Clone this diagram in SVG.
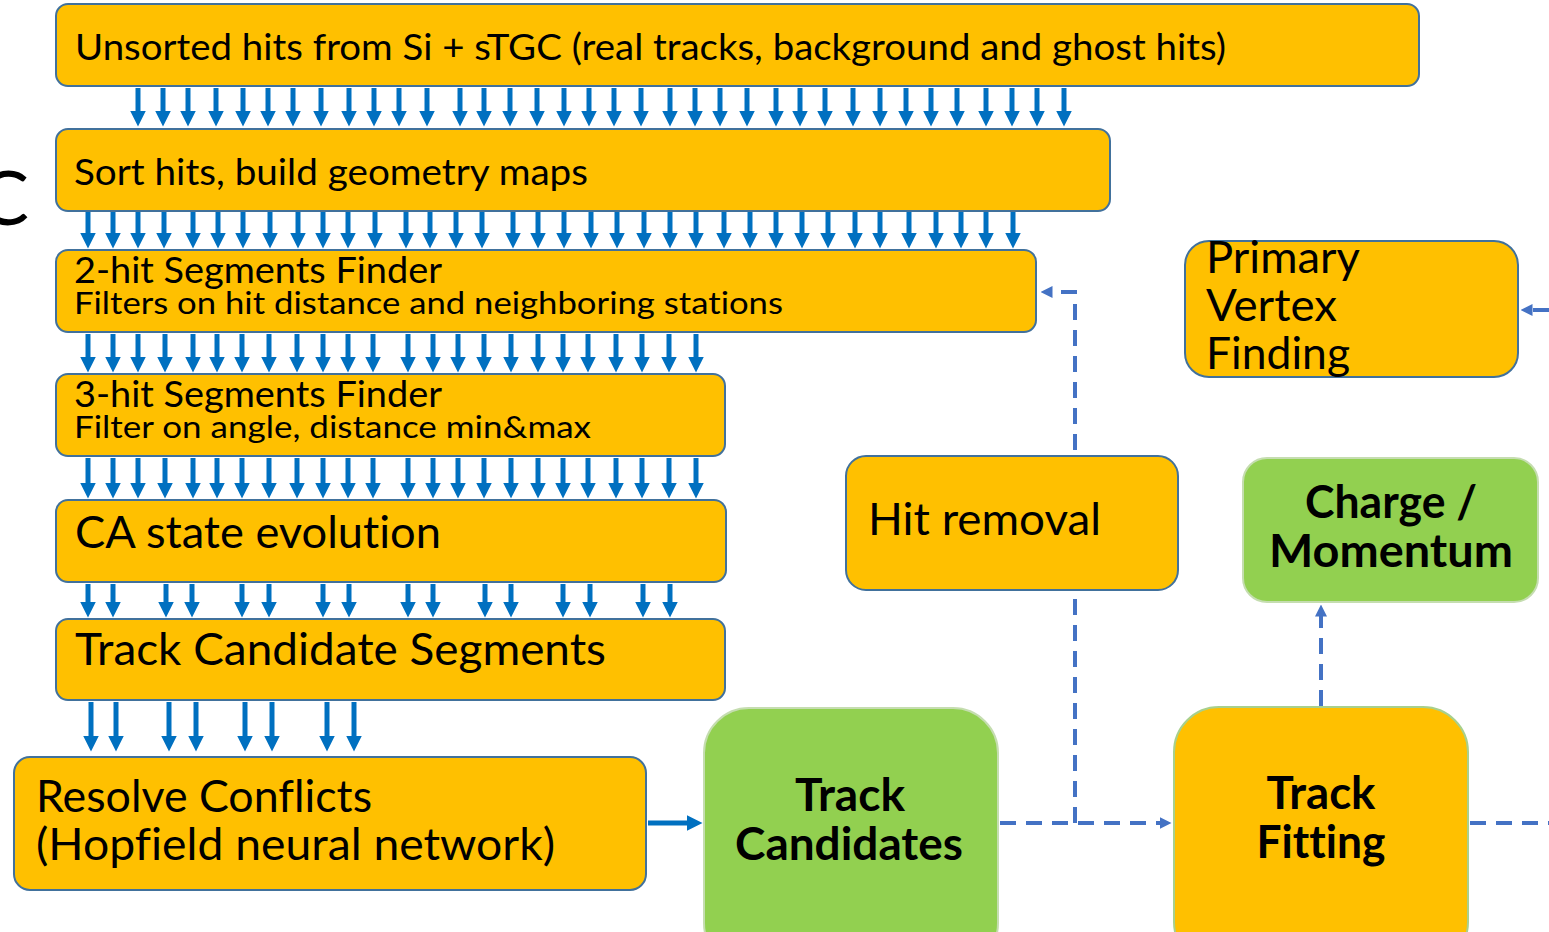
<svg xmlns="http://www.w3.org/2000/svg" width="1549" height="932" viewBox="0 0 1549 932">
<defs>
<style>
.o{fill:#FFC000;stroke:#41719C;stroke-width:2}
.g{fill:#92D050;stroke:#C5DDB0;stroke-width:2}
.tf{fill:#FFC000;stroke:#A8D08D;stroke-width:2}
.t{font-family:Lato,"Liberation Sans",sans-serif;fill:#000;font-variant-ligatures:none}
.b{font-family:Lato,"Liberation Sans",sans-serif;font-weight:bold;fill:#000;font-variant-ligatures:none}
.a{stroke:#0070C0;stroke-width:5;fill:none}
.d{stroke:#4472C4;stroke-width:4;fill:none;stroke-dasharray:16 10}
</style>
<marker id="ah" markerUnits="userSpaceOnUse" viewBox="0 0 16 16" refX="0.5" refY="8" markerWidth="16" markerHeight="16" orient="auto">
<path d="M0,0 L16,8 L0,16 z" fill="#0070C0"/>
</marker>
<marker id="dh" markerUnits="userSpaceOnUse" viewBox="0 0 12 12" refX="0.5" refY="6" markerWidth="12" markerHeight="12" orient="auto">
<path d="M0,0 L12,6 L0,12 z" fill="#4472C4"/>
</marker>
</defs>
<rect width="1549" height="932" fill="#fff"/>
<text class="t" x="29" y="225" font-size="76" text-anchor="end">C</text>

<g id="connectors">
<g id="row1" class="a" marker-end="url(#ah)">
<line x1="138" y1="88" x2="138" y2="111"/><line x1="163" y1="88" x2="163" y2="111"/><line x1="188" y1="88" x2="188" y2="111"/><line x1="216" y1="88" x2="216" y2="111"/><line x1="243" y1="88" x2="243" y2="111"/><line x1="268" y1="88" x2="268" y2="111"/><line x1="293" y1="88" x2="293" y2="111"/><line x1="321" y1="88" x2="321" y2="111"/><line x1="349" y1="88" x2="349" y2="111"/><line x1="374" y1="88" x2="374" y2="111"/><line x1="399" y1="88" x2="399" y2="111"/><line x1="427" y1="88" x2="427" y2="111"/><line x1="460" y1="88" x2="460" y2="111"/><line x1="484" y1="88" x2="484" y2="111"/><line x1="510" y1="88" x2="510" y2="111"/><line x1="537" y1="88" x2="537" y2="111"/><line x1="564" y1="88" x2="564" y2="111"/><line x1="589" y1="88" x2="589" y2="111"/><line x1="614" y1="88" x2="614" y2="111"/><line x1="641" y1="88" x2="641" y2="111"/><line x1="670" y1="88" x2="670" y2="111"/><line x1="695" y1="88" x2="695" y2="111"/><line x1="720" y1="88" x2="720" y2="111"/><line x1="747" y1="88" x2="747" y2="111"/><line x1="776" y1="88" x2="776" y2="111"/><line x1="800" y1="88" x2="800" y2="111"/><line x1="825" y1="88" x2="825" y2="111"/><line x1="853" y1="88" x2="853" y2="111"/><line x1="880" y1="88" x2="880" y2="111"/><line x1="906" y1="88" x2="906" y2="111"/><line x1="931" y1="88" x2="931" y2="111"/><line x1="957" y1="88" x2="957" y2="111"/><line x1="986" y1="88" x2="986" y2="111"/><line x1="1012" y1="88" x2="1012" y2="111"/><line x1="1037" y1="88" x2="1037" y2="111"/><line x1="1064" y1="88" x2="1064" y2="111"/>
</g>
<g id="row2" class="a" marker-end="url(#ah)">
<line x1="88" y1="212" x2="88" y2="233"/><line x1="113" y1="212" x2="113" y2="233"/><line x1="138" y1="212" x2="138" y2="233"/><line x1="164" y1="212" x2="164" y2="233"/><line x1="193" y1="212" x2="193" y2="233"/><line x1="218" y1="212" x2="218" y2="233"/><line x1="243" y1="212" x2="243" y2="233"/><line x1="270" y1="212" x2="270" y2="233"/><line x1="298" y1="212" x2="298" y2="233"/><line x1="323" y1="212" x2="323" y2="233"/><line x1="348" y1="212" x2="348" y2="233"/><line x1="375" y1="212" x2="375" y2="233"/><line x1="406" y1="212" x2="406" y2="233"/><line x1="430" y1="212" x2="430" y2="233"/><line x1="456" y1="212" x2="456" y2="233"/><line x1="482" y1="212" x2="482" y2="233"/><line x1="513" y1="212" x2="513" y2="233"/><line x1="538" y1="212" x2="538" y2="233"/><line x1="564" y1="212" x2="564" y2="233"/><line x1="591" y1="212" x2="591" y2="233"/><line x1="617" y1="212" x2="617" y2="233"/><line x1="644" y1="212" x2="644" y2="233"/><line x1="670" y1="212" x2="670" y2="233"/><line x1="696" y1="212" x2="696" y2="233"/><line x1="724" y1="212" x2="724" y2="233"/><line x1="750" y1="212" x2="750" y2="233"/><line x1="776" y1="212" x2="776" y2="233"/><line x1="802" y1="212" x2="802" y2="233"/><line x1="828" y1="212" x2="828" y2="233"/><line x1="855" y1="212" x2="855" y2="233"/><line x1="880" y1="212" x2="880" y2="233"/><line x1="909" y1="212" x2="909" y2="233"/><line x1="936" y1="212" x2="936" y2="233"/><line x1="961" y1="212" x2="961" y2="233"/><line x1="986" y1="212" x2="986" y2="233"/><line x1="1013" y1="212" x2="1013" y2="233"/>
</g>
<g id="row3" class="a" marker-end="url(#ah)">
<line x1="88" y1="334" x2="88" y2="357"/><line x1="113" y1="334" x2="113" y2="357"/><line x1="138" y1="334" x2="138" y2="357"/><line x1="165" y1="334" x2="165" y2="357"/><line x1="193" y1="334" x2="193" y2="357"/><line x1="217" y1="334" x2="217" y2="357"/><line x1="242" y1="334" x2="242" y2="357"/><line x1="269" y1="334" x2="269" y2="357"/><line x1="297" y1="334" x2="297" y2="357"/><line x1="323" y1="334" x2="323" y2="357"/><line x1="348" y1="334" x2="348" y2="357"/><line x1="373" y1="334" x2="373" y2="357"/><line x1="408" y1="334" x2="408" y2="357"/><line x1="433" y1="334" x2="433" y2="357"/><line x1="458" y1="334" x2="458" y2="357"/><line x1="484" y1="334" x2="484" y2="357"/><line x1="511" y1="334" x2="511" y2="357"/><line x1="538" y1="334" x2="538" y2="357"/><line x1="563" y1="334" x2="563" y2="357"/><line x1="588" y1="334" x2="588" y2="357"/><line x1="616" y1="334" x2="616" y2="357"/><line x1="642" y1="334" x2="642" y2="357"/><line x1="669" y1="334" x2="669" y2="357"/><line x1="696" y1="334" x2="696" y2="357"/>
</g>
<g id="row4" class="a" marker-end="url(#ah)">
<line x1="88" y1="458" x2="88" y2="483"/><line x1="113" y1="458" x2="113" y2="483"/><line x1="138" y1="458" x2="138" y2="483"/><line x1="165" y1="458" x2="165" y2="483"/><line x1="193" y1="458" x2="193" y2="483"/><line x1="217" y1="458" x2="217" y2="483"/><line x1="242" y1="458" x2="242" y2="483"/><line x1="269" y1="458" x2="269" y2="483"/><line x1="297" y1="458" x2="297" y2="483"/><line x1="323" y1="458" x2="323" y2="483"/><line x1="348" y1="458" x2="348" y2="483"/><line x1="373" y1="458" x2="373" y2="483"/><line x1="408" y1="458" x2="408" y2="483"/><line x1="433" y1="458" x2="433" y2="483"/><line x1="458" y1="458" x2="458" y2="483"/><line x1="484" y1="458" x2="484" y2="483"/><line x1="511" y1="458" x2="511" y2="483"/><line x1="538" y1="458" x2="538" y2="483"/><line x1="563" y1="458" x2="563" y2="483"/><line x1="588" y1="458" x2="588" y2="483"/><line x1="616" y1="458" x2="616" y2="483"/><line x1="642" y1="458" x2="642" y2="483"/><line x1="669" y1="458" x2="669" y2="483"/><line x1="696" y1="458" x2="696" y2="483"/>
</g>
<g id="row5" class="a" marker-end="url(#ah)">
<line x1="88" y1="584" x2="88" y2="602"/><line x1="113" y1="584" x2="113" y2="602"/><line x1="166" y1="584" x2="166" y2="602"/><line x1="192" y1="584" x2="192" y2="602"/><line x1="242" y1="584" x2="242" y2="602"/><line x1="269" y1="584" x2="269" y2="602"/><line x1="323" y1="584" x2="323" y2="602"/><line x1="349" y1="584" x2="349" y2="602"/><line x1="408" y1="584" x2="408" y2="602"/><line x1="433" y1="584" x2="433" y2="602"/><line x1="485" y1="584" x2="485" y2="602"/><line x1="511" y1="584" x2="511" y2="602"/><line x1="563" y1="584" x2="563" y2="602"/><line x1="590" y1="584" x2="590" y2="602"/><line x1="643" y1="584" x2="643" y2="602"/><line x1="670" y1="584" x2="670" y2="602"/>
</g>
<g id="row6" class="a" marker-end="url(#ah)">
<line x1="91" y1="702" x2="91" y2="736"/><line x1="116" y1="702" x2="116" y2="736"/><line x1="169" y1="702" x2="169" y2="736"/><line x1="196" y1="702" x2="196" y2="736"/><line x1="245" y1="702" x2="245" y2="736"/><line x1="272" y1="702" x2="272" y2="736"/><line x1="327" y1="702" x2="327" y2="736"/><line x1="354" y1="702" x2="354" y2="736"/>
</g>
<line class="a" x1="648" y1="823" x2="687" y2="823" marker-end="url(#ah)"/>
<path class="d" d="M1000,823 H1160" marker-end="url(#dh)"/>
<path class="d" d="M1075,823 V594"/>
<path class="d" d="M1075,450 V292 H1052" marker-end="url(#dh)"/>
<path class="d" d="M1321,706 V616" marker-end="url(#dh)"/>
<path class="d" d="M1470,823 H1549"/>
<path class="d" d="M1549,310 H1532" marker-end="url(#dh)" stroke-dasharray="6 4"/>
</g>

<g id="n-unsorted"><rect class="o" x="56" y="4" width="1363" height="82" rx="12"/>
<text class="t" x="75" y="60" font-size="37" textLength="1151" lengthAdjust="spacingAndGlyphs">Unsorted hits from Si + sTGC (real tracks, background and ghost hits)</text></g>
<g id="n-sort"><rect class="o" x="56" y="129" width="1054" height="82" rx="12"/>
<text class="t" x="74" y="185" font-size="37" textLength="514" lengthAdjust="spacingAndGlyphs">Sort hits, build geometry maps</text></g>
<g id="n-2hit"><rect class="o" x="56" y="250" width="980" height="82" rx="12"/>
<text class="t" x="74" y="283" font-size="36" textLength="368" lengthAdjust="spacingAndGlyphs">2-hit Segments Finder</text>
<text class="t" x="74" y="314" font-size="31" textLength="709" lengthAdjust="spacingAndGlyphs">Filters on hit distance and neighboring stations</text></g>
<g id="n-3hit"><rect class="o" x="56" y="374" width="669" height="82" rx="12"/>
<text class="t" x="74" y="407" font-size="36" textLength="368" lengthAdjust="spacingAndGlyphs">3-hit Segments Finder</text>
<text class="t" x="74" y="438" font-size="31" textLength="517" lengthAdjust="spacingAndGlyphs">Filter on angle, distance min&amp;max</text></g>
<g id="n-ca"><rect class="o" x="56" y="500" width="670" height="82" rx="12"/>
<text class="t" x="75" y="548" font-size="44" textLength="366" lengthAdjust="spacingAndGlyphs">CA state evolution</text></g>
<g id="n-tcs"><rect class="o" x="56" y="619" width="669" height="81" rx="12"/>
<text class="t" x="75" y="665" font-size="44" textLength="531" lengthAdjust="spacingAndGlyphs">Track Candidate Segments</text></g>
<g id="n-resolve"><rect class="o" x="14" y="757" width="632" height="133" rx="16"/>
<text class="t" x="36" y="812" font-size="44" textLength="336" lengthAdjust="spacingAndGlyphs">Resolve Conflicts</text>
<text class="t" x="36" y="860" font-size="44" textLength="519" lengthAdjust="spacingAndGlyphs">(Hopfield neural network)</text></g>
<g id="n-tc"><rect class="g" x="704" y="708" width="294" height="260" rx="45"/>
<text class="b" x="850" y="811" font-size="46" text-anchor="middle" textLength="110" lengthAdjust="spacingAndGlyphs">Track</text>
<text class="b" x="849" y="860" font-size="46" text-anchor="middle" textLength="228" lengthAdjust="spacingAndGlyphs">Candidates</text></g>
<g id="n-hit"><rect class="o" x="846" y="456" width="332" height="134" rx="20"/>
<text class="t" x="868" y="535" font-size="45" textLength="233" lengthAdjust="spacingAndGlyphs">Hit removal</text></g>
<g id="n-pv"><rect class="o" x="1185" y="241" width="333" height="136" rx="24"/>
<text class="t" x="1206" y="273" font-size="45" textLength="154" lengthAdjust="spacingAndGlyphs">Primary</text>
<text class="t" x="1206" y="321" font-size="45" textLength="131" lengthAdjust="spacingAndGlyphs">Vertex</text>
<text class="t" x="1206" y="369" font-size="45" textLength="144" lengthAdjust="spacingAndGlyphs">Finding</text></g>
<g id="n-charge"><rect class="g" x="1243" y="458" width="295" height="144" rx="24"/>
<text class="b" x="1391" y="518" font-size="45" text-anchor="middle" textLength="172" lengthAdjust="spacingAndGlyphs">Charge /</text>
<text class="b" x="1391" y="567" font-size="45" text-anchor="middle" textLength="244" lengthAdjust="spacingAndGlyphs">Momentum</text></g>
<g id="n-fit"><rect class="tf" x="1174" y="707" width="294" height="260" rx="45"/>
<text class="b" x="1321" y="809" font-size="46" text-anchor="middle" textLength="109" lengthAdjust="spacingAndGlyphs">Track</text>
<text class="b" x="1321" y="858" font-size="46" text-anchor="middle" textLength="129" lengthAdjust="spacingAndGlyphs">Fitting</text></g>
</svg>
